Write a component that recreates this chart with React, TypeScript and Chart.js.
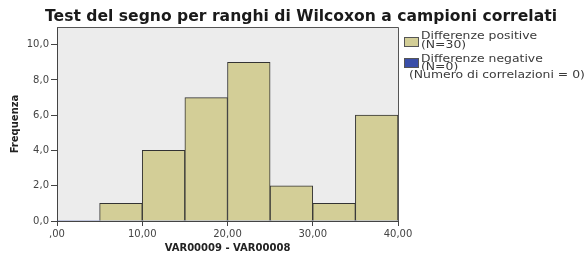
import React, { useEffect, useRef } from "react";
import { Chart, registerables } from "chart.js";

Chart.register(...registerables);

const binCenters = [2.5, 7.5, 12.5, 17.5, 22.5, 27.5, 32.5, 37.5];
const positiveCounts = [0, 1, 4, 7, 9, 2, 1, 6];
const negativeCounts = [0, 0, 0, 0, 0, 0, 0, 0];
const xTicks = [0, 10, 20, 30, 40];
const yTicks = [0, 2, 4, 6, 8, 10];
const titleText = "Test del segno per ranghi di Wilcoxon a campioni correlati";
const legendLines = [
  ["Differenze positive", "(N=30)"],
  ["Differenze negative", "(N=0)"],
];
const legendNote = "(Numero di correlazioni = 0)";
const xTitle = "VAR00009 - VAR00008";
const yTitle = "Frequenza";

const W = 587;
const H = 257;

const decorPlugin = {
  id: "decor",
  beforeDraw(chart: any) {
    const { ctx, chartArea } = chart;
    ctx.save();
    ctx.fillStyle = "#ffffff";
    ctx.fillRect(0, 0, chart.width, chart.height);
    ctx.fillStyle = "#ececec";
    ctx.fillRect(chartArea.left, chartArea.top, chartArea.right - chartArea.left, chartArea.bottom - chartArea.top);
    ctx.restore();
  },
  afterDraw(chart: any) {
    const { ctx, chartArea } = chart;
    ctx.save();
    // frame top/right
    ctx.strokeStyle = "#555";
    ctx.lineWidth = 1;
    ctx.beginPath();
    ctx.moveTo(chartArea.left, chartArea.top + 0.5);
    ctx.lineTo(chartArea.right + 0.5, chartArea.top + 0.5);
    ctx.lineTo(chartArea.right + 0.5, chartArea.bottom);
    ctx.stroke();

    // title
    ctx.fillStyle = "#1a1a1a";
    ctx.font = "bold 15px 'DejaVu Sans'";
    ctx.textBaseline = "alphabetic";
    ctx.textAlign = "center";
    const tw = ctx.measureText(titleText).width;
    const sx = 512 / tw;
    ctx.save();
    ctx.translate(301, 21);
    ctx.scale(sx, 1);
    ctx.fillText(titleText, 0, 0);
    ctx.restore();

    // legend
    const ds = chart.data.datasets;
    const swY = [37, 58];
    const lineY = [[36, 45], [59, 67]];
    const lsx = 1.24;
    ctx.font = "10px 'DejaVu Sans'";
    ctx.textAlign = "left";
    ctx.textBaseline = "middle";
    for (let i = 0; i < ds.length; i++) {
      ctx.fillStyle = ds[i].backgroundColor;
      ctx.fillRect(404, swY[i], 15, 10);
      ctx.strokeStyle = "#555";
      ctx.strokeRect(404.5, swY[i] + 0.5, 14, 9);
      ctx.fillStyle = "#3a3a3a";
      for (let j = 0; j < legendLines[i].length; j++) {
        ctx.save();
        ctx.translate(421, lineY[i][j]);
        ctx.scale(lsx, 1);
        ctx.fillText(legendLines[i][j], 0, 0);
        ctx.restore();
      }
    }
    ctx.save();
    ctx.translate(409, 75);
    ctx.scale(lsx, 1);
    ctx.fillText(legendNote, 0, 0);
    ctx.restore();
    ctx.restore();
  },
};

export default function App() {
  const ref = useRef<HTMLCanvasElement | null>(null);
  useEffect(() => {
    document.body.style.margin = "0";
    const canvas = ref.current!;
    const chart = new Chart(canvas, {
      type: "bar",
      data: {
        datasets: [
          {
            label: legendLines[0].join(" "),
            data: binCenters.map((x, i) => ({ x, y: positiveCounts[i] })),
            backgroundColor: "#d3ce97",
            borderColor: "#333333",
            borderWidth: 1,
            barPercentage: 1,
            categoryPercentage: 1,
            grouped: false,
          },
          {
            label: legendLines[1].join(" "),
            data: binCenters.map((x, i) => ({ x, y: negativeCounts[i] })),
            backgroundColor: "#3a4ea8",
            borderWidth: 0,
            barPercentage: 1,
            categoryPercentage: 1,
            grouped: false,
          },
        ] as any,
      },
      options: {
        animation: false,
        responsive: false,
        devicePixelRatio: 1,
        layout: { padding: { top: 27, right: 189, left: 0, bottom: 0 } },
        plugins: {
          legend: { display: false },
          title: { display: false },
          tooltip: { enabled: false },
        },
        scales: {
          x: {
            type: "linear",
            min: xTicks[0],
            max: xTicks[xTicks.length - 1],
            offset: false,
            afterBuildTicks: (s: any) => {
              s.ticks = xTicks.map((v) => ({ value: v }));
            },
            afterFit: (s: any) => {
              s.height = 36;
            },
            ticks: {
              maxRotation: 0,
              autoSkip: false,
              padding: 2,
              color: "#444",
              font: { family: "'DejaVu Sans'", size: 10 },
              callback: (v: any) => (v === 0 ? ",00" : Number(v).toFixed(2).replace(".", ",")),
            },
            grid: { offset: false, drawOnChartArea: false, drawTicks: true, tickLength: 5, color: "#444" },
            border: { color: "#444" },
            title: {
              display: true,
              text: xTitle,
              color: "#222",
              font: { family: "'DejaVu Sans'", size: 10, weight: "bold" },
              padding: { top: 0, bottom: 3 },
            },
          },
          y: {
            min: 0,
            max: 11,
            afterBuildTicks: (s: any) => {
              s.ticks = yTicks.map((v) => ({ value: v }));
            },
            afterFit: (s: any) => {
              s.width = 57;
            },
            ticks: {
              padding: 2,
              color: "#444",
              font: { family: "'DejaVu Sans'", size: 10 },
              callback: (v: any) => Number(v).toFixed(1).replace(".", ","),
            },
            grid: { drawOnChartArea: false, drawTicks: true, tickLength: 6, color: "#444" },
            border: { color: "#444" },
            title: {
              display: true,
              text: yTitle,
              color: "#222",
              font: { family: "'DejaVu Sans'", size: 10, weight: "bold" },
              padding: { top: 9, bottom: 0 },
            },
          },
        },
      } as any,
      plugins: [decorPlugin],
    });
    return () => chart.destroy();
  }, []);
  return <canvas ref={ref} width={W} height={H} style={{ display: "block" }} />;
}
